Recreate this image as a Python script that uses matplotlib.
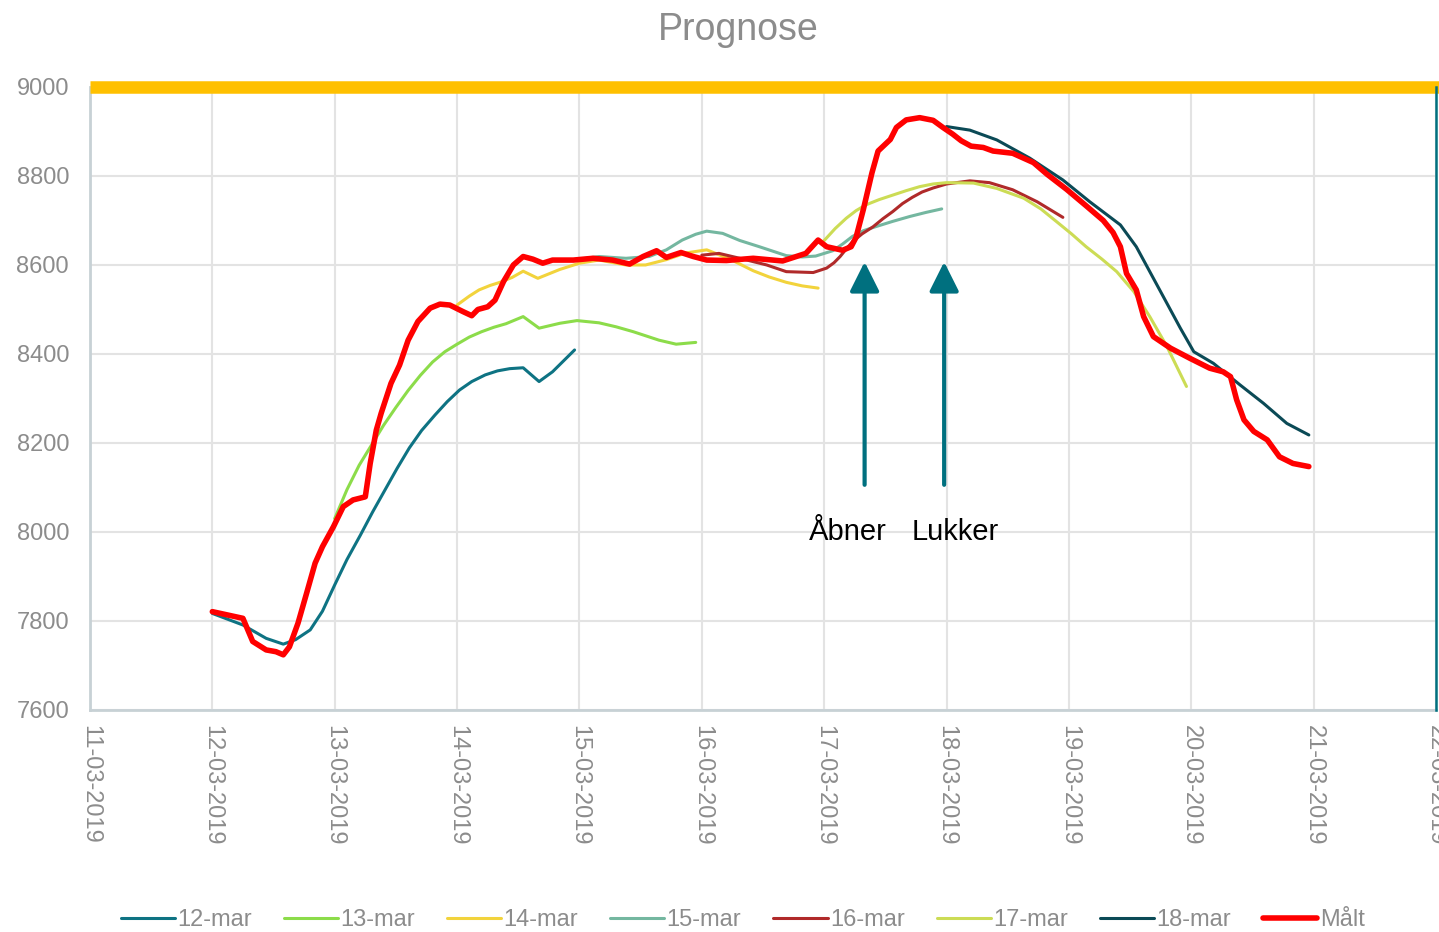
import numpy as np
import pandas as pd
import matplotlib
matplotlib.use("Agg")
import matplotlib.pyplot as plt
import matplotlib.dates as mdates

plt.rcParams['font.family'] = ['Liberation Sans', 'DejaVu Sans']

# tid i dage efter 11-03-2019 00:00
start = pd.Timestamp("2019-03-11")

t12 = [1.0, 1.25, 1.44, 1.58, 1.68, 1.80, 1.90, 2.00, 2.10, 2.21, 2.31, 2.41, 2.51, 2.61, 2.71,
       2.82, 2.92, 3.02, 3.12, 3.23, 3.33, 3.43, 3.54, 3.67, 3.78, 3.96]
v12 = [7817, 7791, 7761, 7748, 7758, 7780, 7822, 7881, 7938, 7993, 8045, 8094, 8143, 8189, 8228,
       8263, 8293, 8319, 8338, 8353, 8362, 8367, 8369, 8338, 8360, 8409]

t13 = [2.0, 2.1, 2.2, 2.3, 2.4, 2.5, 2.6, 2.7, 2.8, 2.9, 3.0, 3.1, 3.2, 3.3, 3.4, 3.54,
       3.67, 3.84, 3.98, 4.16, 4.30, 4.44, 4.65, 4.79, 4.95]
v13 = [8030, 8095, 8150, 8195, 8240, 8280, 8318, 8352, 8382, 8405, 8422, 8438, 8450, 8460, 8468, 8484,
       8458, 8469, 8475, 8470, 8461, 8450, 8431, 8422, 8426]

t14 = [3.0, 3.1, 3.18, 3.27, 3.35, 3.45, 3.54, 3.66, 3.84, 4.0, 4.16, 4.38, 4.54, 4.71, 4.87,
       5.04, 5.23, 5.42, 5.55, 5.69, 5.82, 5.95]
v14 = [8510, 8530, 8544, 8554, 8561, 8572, 8586, 8570, 8590, 8604, 8611, 8600, 8600, 8612, 8627,
       8634, 8613, 8587, 8573, 8561, 8553, 8548]

t15 = [4.0, 4.16, 4.38, 4.57, 4.71, 4.84, 4.95, 5.04, 5.17, 5.31, 5.47, 5.69, 5.82, 5.93, 6.07,
       6.15, 6.23, 6.32, 6.42, 6.56, 6.70, 6.83, 6.96]
v15 = [8613, 8619, 8615, 8619, 8634, 8656, 8669, 8676, 8671, 8655, 8641, 8621, 8618, 8620, 8632,
       8647, 8664, 8677, 8686, 8698, 8709, 8718, 8726]

t16 = [5.0, 5.14, 5.31, 5.53, 5.69, 5.91, 6.02, 6.08, 6.13, 6.18, 6.23, 6.31, 6.40, 6.48, 6.56,
       6.64, 6.72, 6.80, 6.89, 7.0, 7.19, 7.35, 7.54, 7.74, 7.95]
v16 = [8622, 8626, 8615, 8600, 8585, 8583, 8593, 8605, 8619, 8636, 8652, 8670, 8686, 8704, 8720,
       8738, 8752, 8764, 8773, 8782, 8789, 8785, 8769, 8742, 8707]

t17 = [6.0, 6.09, 6.18, 6.26, 6.34, 6.45, 6.56, 6.67, 6.78, 6.89, 7.0, 7.22, 7.41, 7.63, 7.77,
       7.90, 8.02, 8.14, 8.27, 8.39, 8.53, 8.66, 8.80, 8.96]
v17 = [8655, 8682, 8705, 8722, 8735, 8747, 8757, 8767, 8776, 8782, 8785, 8784, 8772, 8750, 8726,
       8697, 8670, 8641, 8613, 8585, 8540, 8484, 8417, 8327]

t18 = [7.0, 7.19, 7.41, 7.68, 7.95, 8.17, 8.42, 8.55, 8.68, 8.80, 8.91, 9.02, 9.18, 9.40, 9.59,
       9.78, 9.96]
v18 = [8911, 8903, 8881, 8840, 8791, 8742, 8690, 8641, 8575, 8514, 8458, 8405, 8379, 8330, 8289,
       8244, 8218]

t_maalt = [1.0, 1.25, 1.33, 1.44, 1.52, 1.58, 1.63, 1.70, 1.77, 1.84, 1.90, 1.99, 2.07, 2.15, 2.25,
           2.29, 2.34, 2.38, 2.46, 2.53, 2.60, 2.68, 2.78, 2.86, 2.94, 3.05, 3.12, 3.17, 3.25, 3.31,
           3.38, 3.46, 3.54, 3.62, 3.70, 3.78, 3.95, 4.11, 4.27, 4.41, 4.52, 4.63, 4.71, 4.83, 4.93,
           5.04, 5.20, 5.42, 5.66, 5.85, 5.95, 6.02, 6.15, 6.22, 6.26, 6.32, 6.39, 6.44, 6.54, 6.59,
           6.67, 6.78, 6.89, 6.97, 7.05, 7.12, 7.20, 7.30, 7.38, 7.54, 7.71, 7.82, 7.98, 8.14, 8.28,
           8.36, 8.42, 8.47, 8.55, 8.61, 8.69, 8.83, 8.99, 9.15, 9.26, 9.32, 9.37, 9.43, 9.51, 9.62,
           9.72, 9.83, 9.96]
v_maalt = [7821, 7806, 7754, 7735, 7731, 7724, 7742, 7795, 7862, 7930, 7967, 8012, 8057, 8072, 8079,
           8154, 8229, 8267, 8334, 8375, 8431, 8473, 8503, 8512, 8510, 8495, 8486, 8500, 8506, 8521,
           8563, 8600, 8619, 8613, 8604, 8611, 8611, 8615, 8611, 8602, 8619, 8632, 8617, 8628, 8619,
           8611, 8610, 8615, 8609, 8626, 8656, 8641, 8633, 8641, 8662, 8725, 8807, 8856, 8882, 8909,
           8926, 8931, 8925, 8909, 8894, 8879, 8867, 8864, 8856, 8851, 8830, 8804, 8770, 8733, 8700,
           8673, 8641, 8581, 8544, 8484, 8439, 8413, 8390, 8368, 8360, 8349, 8297, 8252, 8226, 8207,
           8169, 8154, 8147]

series = [
    ("12-mar", t12, v12, "#0e7383", 2.2),
    ("13-mar", t13, v13, "#8cdc4a", 2.2),
    ("14-mar", t14, v14, "#f2d33c", 2.2),
    ("15-mar", t15, v15, "#74b7a0", 2.2),
    ("16-mar", t16, v16, "#b02a2a", 2.2),
    ("17-mar", t17, v17, "#ccdc55", 2.2),
    ("18-mar", t18, v18, "#0b4a56", 2.2),
    ("Målt", t_maalt, v_maalt, "#ff0000", 4.0),
]

arrow_days = [6.33, 6.98]
arrow_labels = [("Åbner", 6.19), ("Lukker", 7.07)]

def to_dates(days):
    return start + pd.to_timedelta(np.array(days), unit="D")

fig = plt.figure(figsize=(14.39, 9.32), dpi=100)
ax = fig.add_axes([0.0625, 0.2382, 0.9355, 0.6685])

grey = "#8c8c8c"
for name, t, v, col, lw in series:
    ax.plot(to_dates(t), v, color=col, lw=lw, label=name,
            zorder=5 if name == "Målt" else 3, solid_capstyle="round",
            solid_joinstyle="round")

ax.set_xlim(start, start + pd.Timedelta(days=11))
ax.set_ylim(7600, 9000)
ax.set_yticks(np.arange(7600, 9001, 200))
ax.xaxis.set_major_locator(mdates.DayLocator())
ax.xaxis.set_major_formatter(mdates.DateFormatter("%d-%m-%Y"))
ax.grid(True, color="#e3e3e3", lw=1.5, zorder=0)
ax.tick_params(length=0, labelsize=17, labelcolor=grey)
ax.tick_params(axis="y", pad=15)
ax.tick_params(axis="x", pad=11)
plt.setp(ax.get_xticklabels(), rotation=270, ha="center", va="top")
plt.setp(ax.get_yticklabels(), ha="right")

for s in ["top", "right"]:
    ax.spines[s].set_visible(False)
ax.spines["left"].set_color("#c7d1d5")
ax.spines["left"].set_linewidth(2)
ax.spines["bottom"].set_color("#c7d1d5")
ax.spines["bottom"].set_linewidth(2)

# gul linje ved 9000 og tyrkis linje i højre side
ax.plot([0, 1.002], [1, 1], transform=ax.transAxes, color="#ffc000", lw=9,
        clip_on=False, zorder=6, solid_capstyle="butt")
ax.axvline(start + pd.Timedelta(days=11), color="#00707f", lw=1.8, zorder=6, clip_on=False)

for d in arrow_days:
    x = start + pd.Timedelta(days=d)
    ax.annotate("", xy=(x, 8607), xytext=(x, 8106),
                arrowprops=dict(arrowstyle="-|>,head_length=0.9,head_width=0.45",
                                mutation_scale=20, color="#00707f", lw=3,
                                shrinkA=0, shrinkB=0), zorder=7)
for txt, d in arrow_labels:
    ax.text(start + pd.Timedelta(days=d), 8000, txt, fontsize=21, color="black",
            ha="center", va="center", zorder=7)

fig.suptitle("Prognose", fontsize=27, color=grey, y=0.968, x=0.513, va="center")

fig.legend(loc="center", bbox_to_anchor=(0.516, 0.013), ncol=8, frameon=False,
           fontsize=17, labelcolor=grey, handlelength=2.3, handletextpad=0.1,
           columnspacing=1.35)

fig.savefig("out.png", dpi=100)
